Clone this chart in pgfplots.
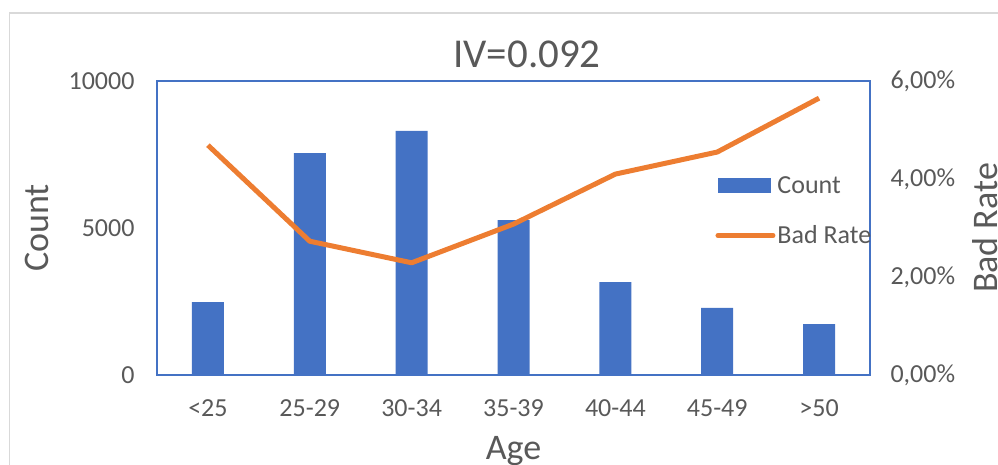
\documentclass[border=0pt]{standalone}
\usepackage{pgfplots}
\pgfplotsset{compat=1.18}
\usepackage{fontspec}
\setmainfont{Carlito}
\definecolor{barblue}{HTML}{4472C4}
\definecolor{lineor}{HTML}{ED7D31}
\definecolor{txt}{HTML}{595959}
\definecolor{framegray}{HTML}{D9D9D9}
\begin{document}
\begin{tikzpicture}
\useasboundingbox (0,0) rectangle (998pt,465pt);
\draw[framegray, line width=1.2pt] (9.5pt,-20pt) -- (9.5pt,452pt) -- (1020pt,452pt);
\begin{axis}[
  at={(157pt,90pt)}, anchor=south west,
  scale only axis, width=713pt, height=294pt,
  xmin=-0.5, xmax=6.5, ymin=0, ymax=10000,
  scaled ticks=false,
  xtick={0,1,2,3,4,5,6},
  xticklabels={{<25},{25-29},{30-34},{35-39},{40-44},{45-49},{>50}},
  ytick={0,5000,10000}, yticklabels={0,5000,10000},
  major tick length=0pt,
  axis line style={barblue, line width=1.3pt},
  tick label style={font=\fontsize{26}{31}\selectfont, text=txt},
  xticklabel style={anchor=base, yshift=-42pt},
  yticklabel style={anchor=east, xshift=-19pt},
  title={IV=0.092},
  title style={font=\fontsize{41}{49}\selectfont, text=txt, at={(rel axis cs:0.519,1)}, anchor=center, yshift=21pt},
  xlabel={Age},
  xlabel style={font=\fontsize{36}{43}\selectfont, text=txt, at={(rel axis cs:0.5,-0.286)}, anchor=base},
  ylabel={Count},
  ylabel style={font=\fontsize{36}{43}\selectfont, text=txt, at={(rel axis cs:-0.168,0.5)}, anchor=center, rotate=0},
]
\addplot[ybar, bar width=32pt, fill=barblue, draw=none] coordinates {
  (0,2480) (1,7550) (2,8300) (3,5270) (4,3160) (5,2280) (6,1730)
};
\end{axis}
\begin{axis}[
  at={(157pt,90pt)}, anchor=south west,
  scale only axis, width=713pt, height=294pt,
  xmin=-0.5, xmax=6.5, ymin=0, ymax=6,
  axis x line=none, axis y line*=right,
  ytick={0,2,4,6}, yticklabels={{0,00\%},{2,00\%},{4,00\%},{6,00\%}},
  major tick length=0pt,
  axis line style={barblue, line width=1.3pt},
  tick label style={font=\fontsize{26}{31}\selectfont, text=txt},
  yticklabel style={anchor=west, xshift=17pt},
  ylabel={Bad Rate},
  ylabel style={font=\fontsize{36}{43}\selectfont, text=txt, at={(rel axis cs:1.1613,0.5)}, anchor=center, rotate=0},
  legend style={at={(rel axis cs:0.783,0.683)}, anchor=north west, draw=none, fill=none,
    font=\fontsize{26}{31}\selectfont, text=txt, row sep=27pt, inner sep=0pt},
  legend cell align=left,
]
\addlegendimage{legend image code/.code={\fill[barblue] (0pt,-7pt) rectangle (52pt,7pt);}}
\addlegendentry{Count}
\addplot[lineor, line width=5pt, line join=round,
  legend image code/.code={\draw[lineor, line width=5pt, line cap=round] (0pt,0pt) -- (55pt,0pt);}] coordinates {
  (0,4.69) (1,2.73) (2,2.29) (3,3.08) (4,4.10) (5,4.55) (6,5.65)
};
\addlegendentry{Bad Rate}
\end{axis}
\end{tikzpicture}
\end{document}
